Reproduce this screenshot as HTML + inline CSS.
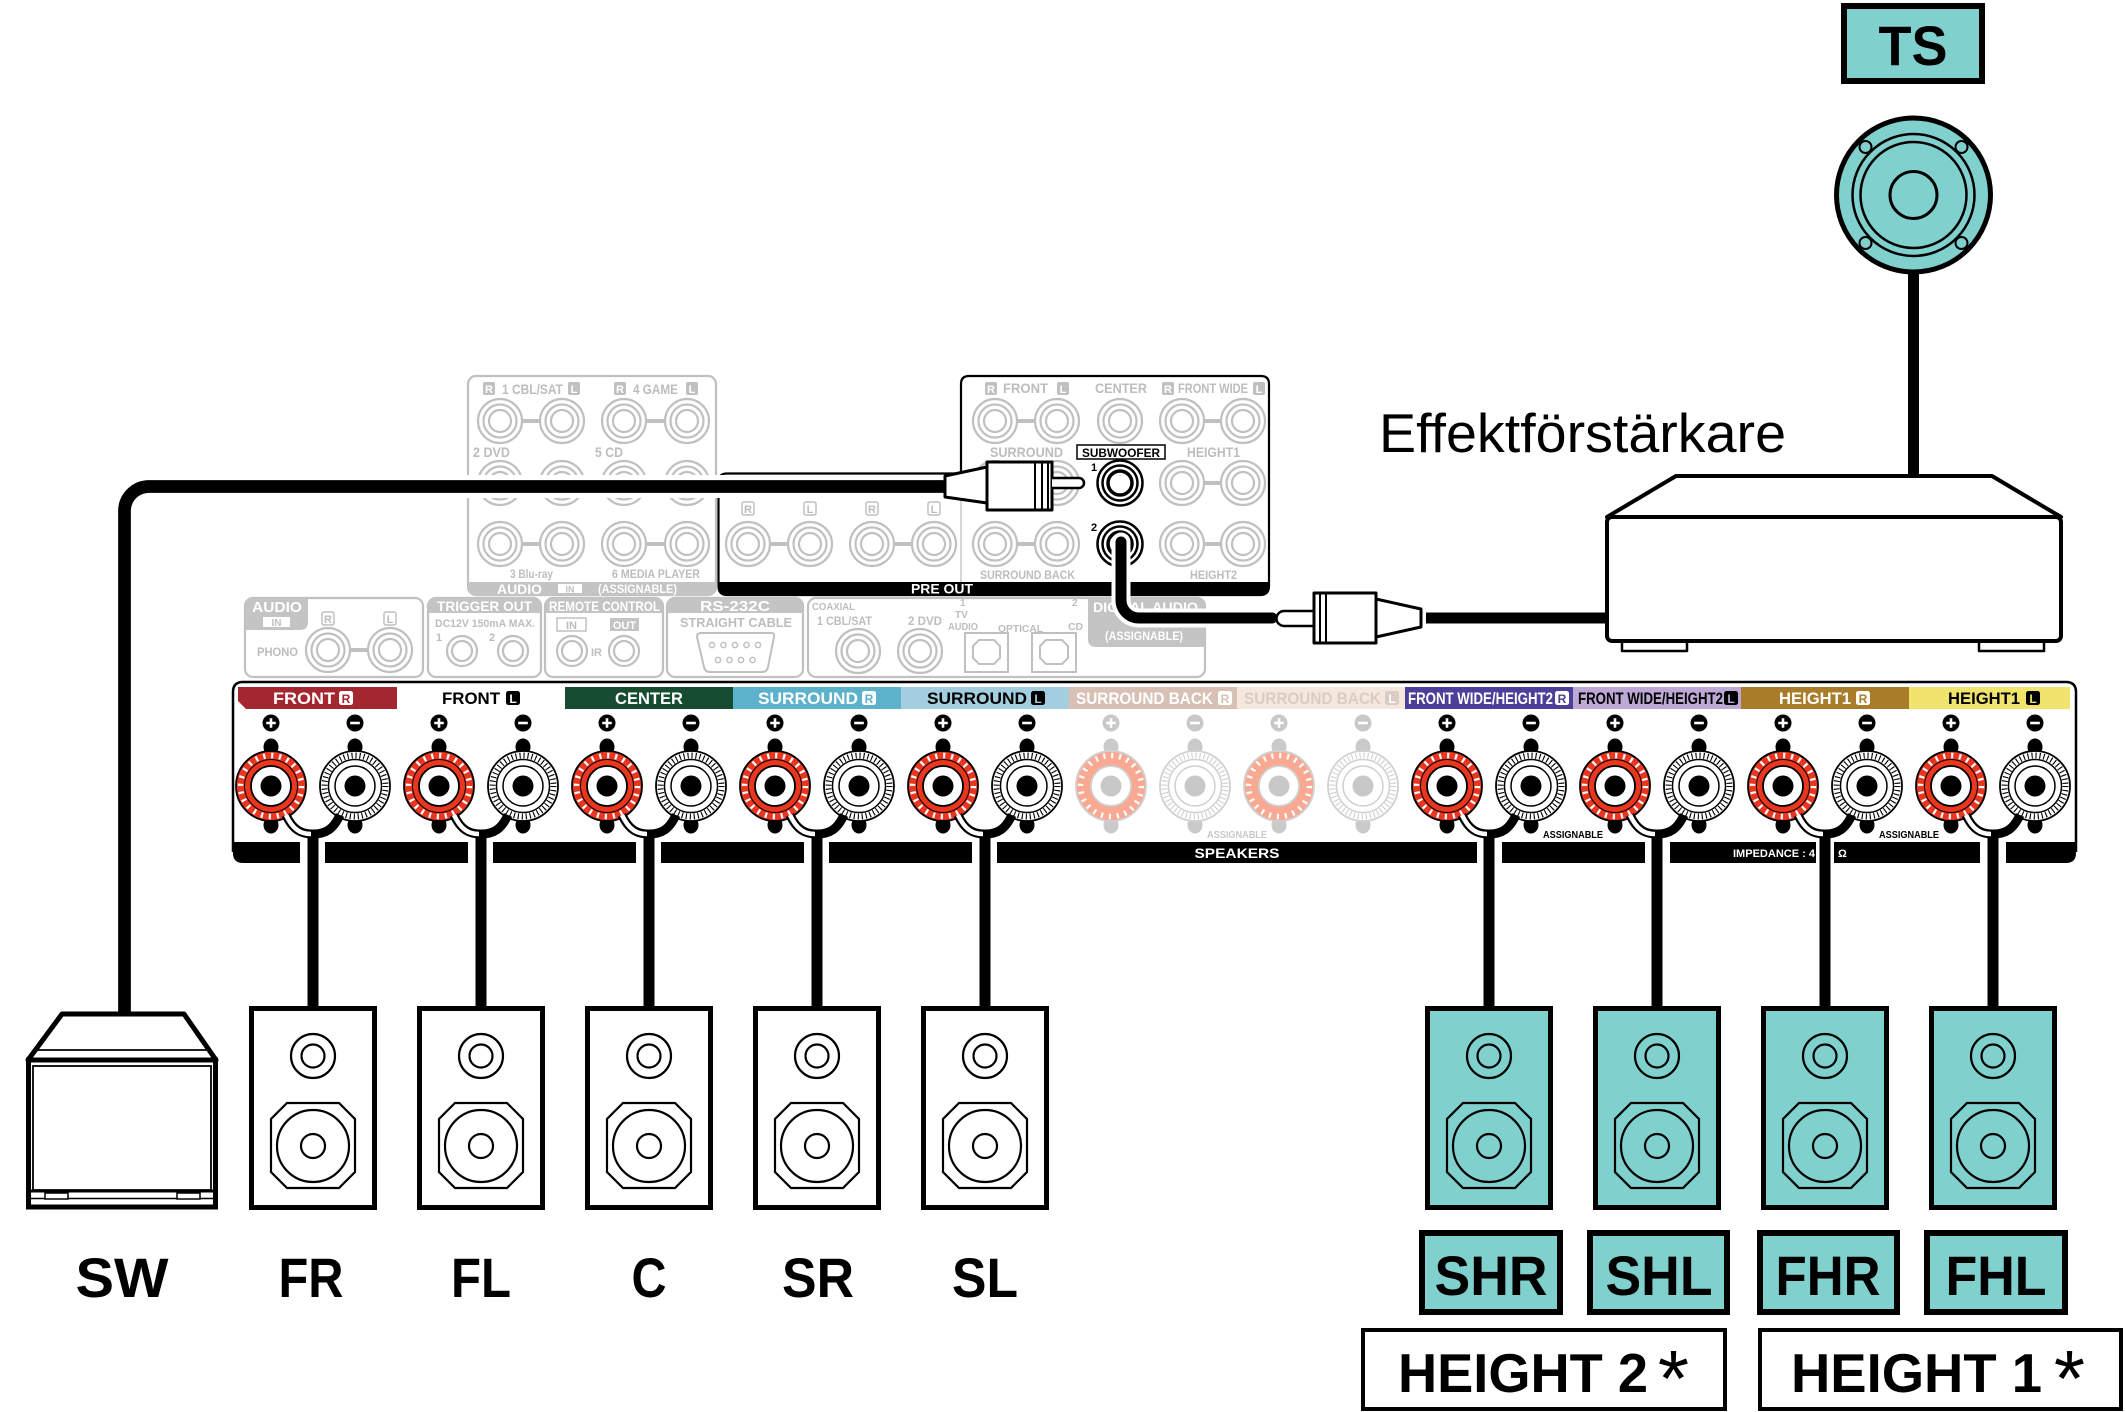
<!DOCTYPE html>
<html><head><meta charset="utf-8"><style>
html,body{margin:0;padding:0;background:#fff;}
svg{display:block;}
text{font-family:"Liberation Sans",Arial,sans-serif;}
.g{fill:#bdbdbd;font-weight:bold;}
.w{fill:#fff;font-weight:bold;}
.b{fill:#000;font-weight:bold;}
</style></head><body>
<svg width="2126" height="1412" viewBox="0 0 2126 1412" xmlns="http://www.w3.org/2000/svg">
<defs>
<g id="tp">
 <ellipse cy="-39" rx="7.5" ry="8.5"/><ellipse cy="39" rx="7.5" ry="8.5"/>
 <circle r="35" fill="#e8361f" stroke="#000" stroke-width="1.8"/>
 <circle r="30.5" fill="none" stroke="#fff" stroke-width="5.5" stroke-dasharray="2.2 5.78"/>
 <circle r="26.5" fill="none" stroke="#000" stroke-width="1"/>
 <circle r="20" fill="#fff" stroke="#000" stroke-width="1.8"/>
 <circle r="10.5" fill="#000"/>
</g>
<g id="tm">
 <ellipse cy="-39" rx="7.5" ry="8.5"/><ellipse cy="39" rx="7.5" ry="8.5"/>
 <circle r="35" fill="#fff" stroke="#000" stroke-width="1.8"/>
 <circle r="30.5" fill="none" stroke="#000" stroke-width="6" stroke-dasharray="1.1 2.9"/>
 <circle r="26.5" fill="#fff" stroke="#000" stroke-width="1.5"/>
 <circle r="20" fill="#fff" stroke="#000" stroke-width="1.5"/>
 <circle r="10.5" fill="#000"/>
</g>
<g id="tpf">
 <ellipse cy="-39" rx="7.5" ry="8.5" fill="#cacaca"/><ellipse cy="39" rx="7.5" ry="8.5" fill="#cacaca"/>
 <circle r="35" fill="#f9a892" stroke="#d0d0d0" stroke-width="1.8"/>
 <circle r="30.5" fill="none" stroke="#fff" stroke-width="5.5" stroke-dasharray="2.2 5.78"/>
 <circle r="20" fill="#fff" stroke="#d0d0d0" stroke-width="1.8"/>
 <circle r="10.5" fill="#c8c8c8"/>
</g>
<g id="tmf">
 <ellipse cy="-39" rx="7.5" ry="8.5" fill="#cacaca"/><ellipse cy="39" rx="7.5" ry="8.5" fill="#cacaca"/>
 <circle r="35" fill="#fff" stroke="#d0d0d0" stroke-width="1.8"/>
 <circle r="30.5" fill="none" stroke="#d0d0d0" stroke-width="6" stroke-dasharray="1.1 2.9"/>
 <circle r="26.5" fill="#fff" stroke="#d0d0d0" stroke-width="1.5"/>
 <circle r="20" fill="#fff" stroke="#d0d0d0" stroke-width="1.5"/>
 <circle r="10.5" fill="#c8c8c8"/>
</g>
<g id="sp"><circle r="8.5"/><path d="M-4.8 0H4.8M0-4.8V4.8" stroke="#fff" stroke-width="2.6"/></g>
<g id="sm"><circle r="8.5"/><path d="M-4.8 0H4.8" stroke="#fff" stroke-width="2.6"/></g>
<g id="spk">
 <rect x="-61.5" y="1008.5" width="123" height="199" stroke="#000" stroke-width="5"/>
 <g fill="none" stroke="#000" stroke-width="2.2">
  <circle cy="1056" r="22"/><circle cy="1056" r="11.5"/>
  <polygon points="-26,1103 26,1103 42,1119 42,1172 26,1188 -26,1188 -42,1172 -42,1119"/>
  <circle cy="1146" r="36"/><circle cy="1146" r="12"/>
 </g>
</g>
<g id="gj" stroke="#c0c0c0" stroke-width="2.2" fill="none"><circle r="22" fill="#fff"/><circle r="16.5"/><circle r="11"/></g>
<g id="gjs" stroke="#c0c0c0" stroke-width="2.2" fill="none"><circle r="15" fill="#fff"/><circle r="10"/></g>
<g id="bj" fill="none" stroke="#000"><circle r="22.5" fill="#fff" stroke-width="2.5"/><circle r="17.5" stroke-width="2.5"/><circle r="12" stroke-width="3.5"/></g>
</defs>

<!-- ================= GRAY BACK PANEL ================= -->
<g>
 <!-- left audio in block -->
 <rect x="468" y="376" width="248" height="219" rx="8" fill="#fff" stroke="#c0c0c0" stroke-width="2.2"/>
 <path d="M468 582 H716 V587 Q716 595 708 595 H476 Q468 595 468 587 Z" fill="#c4c4c4"/>
 <g stroke="#c0c0c0" stroke-width="4">
  <path d="M522 421H540M646 421H665M522 483H540M646 483H665M522 544H540M646 544H665"/>
 </g>
 <use href="#gj" x="500" y="421"/><use href="#gj" x="562" y="421"/><use href="#gj" x="624" y="421"/><use href="#gj" x="687" y="421"/>
 <use href="#gj" x="500" y="483"/><use href="#gj" x="562" y="483"/><use href="#gj" x="624" y="483"/><use href="#gj" x="687" y="483"/>
 <use href="#gj" x="500" y="544"/><use href="#gj" x="562" y="544"/><use href="#gj" x="624" y="544"/><use href="#gj" x="687" y="544"/>
 <rect x="483" y="382" width="12" height="13" rx="2" fill="#c0c0c0"/><text x="489" y="393" class="w" font-size="11" text-anchor="middle">R</text>
 <text x="502" y="394" class="g" font-size="14" textLength="61" lengthAdjust="spacingAndGlyphs">1 CBL/SAT</text>
 <rect x="568" y="382" width="12" height="13" rx="2" fill="#c0c0c0"/><text x="574" y="393" class="w" font-size="11" text-anchor="middle">L</text>
 <rect x="614" y="382" width="12" height="13" rx="2" fill="#c0c0c0"/><text x="620" y="393" class="w" font-size="11" text-anchor="middle">R</text>
 <text x="633" y="394" class="g" font-size="14" textLength="45" lengthAdjust="spacingAndGlyphs">4 GAME</text>
 <rect x="686" y="382" width="12" height="13" rx="2" fill="#c0c0c0"/><text x="692" y="393" class="w" font-size="11" text-anchor="middle">L</text>
 <text x="473" y="457" class="g" font-size="14" textLength="37" lengthAdjust="spacingAndGlyphs">2 DVD</text>
 <text x="595" y="457" class="g" font-size="14" textLength="28" lengthAdjust="spacingAndGlyphs">5 CD</text>
 <text x="510" y="578" class="g" font-size="12" textLength="43" lengthAdjust="spacingAndGlyphs">3 Blu-ray</text>
 <text x="612" y="578" class="g" font-size="12" textLength="88" lengthAdjust="spacingAndGlyphs">6 MEDIA PLAYER</text>
 <text x="497" y="594" class="w" font-size="14" textLength="45" lengthAdjust="spacingAndGlyphs">AUDIO</text>
 <rect x="558" y="584" width="24" height="9" fill="#fff"/><text x="570" y="592.5" font-size="9" fill="#c0c0c0" font-weight="bold" text-anchor="middle">IN</text>
 <text x="598" y="593" class="w" font-size="12" textLength="79" lengthAdjust="spacingAndGlyphs">(ASSIGNABLE)</text>

 <!-- PRE OUT region -->
 <path d="M727 473.5 H961 V384 Q961 376 969 376 H1261 Q1269 376 1269 384 V586 Q1269 595 1260 595 H727 Q718.5 595 718.5 586 V482 Q718.5 473.5 727 473.5 Z" fill="#fff" stroke="#000" stroke-width="2.2"/>
 <line x1="961" y1="474" x2="961" y2="582" stroke="#c8c8c8" stroke-width="1.5"/>
 <path d="M718.5 582 H1269 V586 Q1269 595 1260 595 H727 Q718.5 595 718.5 586 Z" fill="#000"/>
 <text x="942" y="593.5" class="w" font-size="14" text-anchor="middle" textLength="62" lengthAdjust="spacingAndGlyphs">PRE OUT</text>
 <g stroke="#c0c0c0" stroke-width="4">
  <path d="M770 544H788M894 544H912M1017 421H1035M1204 421H1221M1017 483H1035M1204 483H1221M1017 544H1035M1204 544H1221"/>
 </g>
 <use href="#gj" x="748" y="544"/><use href="#gj" x="810" y="544"/><use href="#gj" x="872" y="544"/><use href="#gj" x="934" y="544"/>
 <g fill="none" stroke="#c0c0c0" stroke-width="1.5">
  <rect x="742" y="502" width="12" height="13" rx="2"/><rect x="804" y="502" width="12" height="13" rx="2"/><rect x="866" y="502" width="12" height="13" rx="2"/><rect x="928" y="502" width="12" height="13" rx="2"/>
 </g>
 <text x="748" y="513" class="g" font-size="11" text-anchor="middle">R</text>
 <text x="810" y="513" class="g" font-size="11" text-anchor="middle">L</text>
 <text x="872" y="513" class="g" font-size="11" text-anchor="middle">R</text>
 <text x="934" y="513" class="g" font-size="11" text-anchor="middle">L</text>
 <use href="#gj" x="995" y="421"/><use href="#gj" x="1057" y="421"/><use href="#gj" x="1120" y="421"/><use href="#gj" x="1182" y="421"/><use href="#gj" x="1243" y="421"/>
 <use href="#gj" x="995" y="483"/><use href="#gj" x="1057" y="483"/><use href="#gj" x="1182" y="483"/><use href="#gj" x="1243" y="483"/>
 <use href="#gj" x="995" y="544"/><use href="#gj" x="1057" y="544"/><use href="#gj" x="1182" y="544"/><use href="#gj" x="1243" y="544"/>
 <use href="#bj" x="1120" y="483"/><use href="#bj" x="1120" y="544"/>
 <rect x="985" y="382" width="12" height="13" rx="2" fill="#c0c0c0"/><text x="991" y="393" class="w" font-size="11" text-anchor="middle">R</text>
 <text x="1003" y="393" class="g" font-size="14" textLength="45" lengthAdjust="spacingAndGlyphs">FRONT</text>
 <rect x="1057" y="382" width="12" height="13" rx="2" fill="#c0c0c0"/><text x="1063" y="393" class="w" font-size="11" text-anchor="middle">L</text>
 <text x="1095" y="393" class="g" font-size="14" textLength="52" lengthAdjust="spacingAndGlyphs">CENTER</text>
 <rect x="1162" y="382" width="12" height="13" rx="2" fill="#c0c0c0"/><text x="1168" y="393" class="w" font-size="11" text-anchor="middle">R</text>
 <text x="1178" y="393" class="g" font-size="14" textLength="70" lengthAdjust="spacingAndGlyphs">FRONT WIDE</text>
 <rect x="1253" y="382" width="12" height="13" rx="2" fill="#c0c0c0"/><text x="1259" y="393" class="w" font-size="11" text-anchor="middle">L</text>
 <text x="990" y="457" class="g" font-size="14" textLength="73" lengthAdjust="spacingAndGlyphs">SURROUND</text>
 <rect x="1077" y="445" width="88" height="14" fill="#fff" stroke="#000" stroke-width="1.5"/>
 <text x="1121" y="457" class="b" font-size="11.5" text-anchor="middle" textLength="78" lengthAdjust="spacingAndGlyphs">SUBWOOFER</text>
 <text x="1187" y="457" class="g" font-size="14" textLength="53" lengthAdjust="spacingAndGlyphs">HEIGHT1</text>
 <text x="1091" y="471" class="b" font-size="11">1</text>
 <text x="1091" y="531" class="b" font-size="11">2</text>
 <text x="980" y="579" class="g" font-size="12" textLength="95" lengthAdjust="spacingAndGlyphs">SURROUND BACK</text>
 <text x="1190" y="579" class="g" font-size="12" textLength="47" lengthAdjust="spacingAndGlyphs">HEIGHT2</text>

 <!-- second row -->
 <rect x="245" y="598" width="178" height="79" rx="8" fill="#fff" stroke="#c0c0c0" stroke-width="2.2"/>
 <path d="M245 606 Q245 598 253 598 H308 V622 Q308 630 300 630 H245 Z" fill="#c4c4c4"/>
 <text x="252" y="612" class="w" font-size="15" textLength="50" lengthAdjust="spacingAndGlyphs">AUDIO</text>
 <rect x="263" y="617" width="27" height="10" fill="#fff"/><text x="276.5" y="626" font-size="10" fill="#c0c0c0" font-weight="bold" text-anchor="middle">IN</text>
 <rect x="322" y="612" width="12" height="13" rx="2" fill="none" stroke="#c0c0c0" stroke-width="1.5"/><text x="328" y="623" class="g" font-size="11" text-anchor="middle">R</text>
 <rect x="384" y="612" width="12" height="13" rx="2" fill="none" stroke="#c0c0c0" stroke-width="1.5"/><text x="390" y="623" class="g" font-size="11" text-anchor="middle">L</text>
 <text x="257" y="656" class="g" font-size="12" textLength="41" lengthAdjust="spacingAndGlyphs">PHONO</text>
 <path d="M350 650H368" stroke="#c0c0c0" stroke-width="4"/>
 <use href="#gj" x="328" y="650"/><use href="#gj" x="390" y="650"/>

 <rect x="428" y="598" width="113" height="79" rx="8" fill="#fff" stroke="#c0c0c0" stroke-width="2.2"/>
 <path d="M428 613 V606 Q428 598 436 598 H533 Q541 598 541 606 V613 Z" fill="#c4c4c4"/>
 <text x="437" y="611" class="w" font-size="14" textLength="95" lengthAdjust="spacingAndGlyphs">TRIGGER OUT</text>
 <text x="435" y="627" class="g" font-size="11" textLength="100" lengthAdjust="spacingAndGlyphs">DC12V 150mA MAX.</text>
 <text x="436" y="641" class="g" font-size="11">1</text><text x="489" y="641" class="g" font-size="11">2</text>
 <use href="#gjs" x="462" y="651"/><use href="#gjs" x="513" y="651"/>

 <rect x="545" y="598" width="118" height="79" rx="8" fill="#fff" stroke="#c0c0c0" stroke-width="2.2"/>
 <path d="M545 613 V606 Q545 598 553 598 H655 Q663 598 663 606 V613 Z" fill="#c4c4c4"/>
 <text x="549" y="611" class="w" font-size="14" textLength="111" lengthAdjust="spacingAndGlyphs">REMOTE CONTROL</text>
 <rect x="557" y="618" width="29" height="13" fill="none" stroke="#c0c0c0" stroke-width="1.5"/><text x="571.5" y="629" class="g" font-size="11" text-anchor="middle">IN</text>
 <rect x="610" y="618" width="29" height="13" fill="#c4c4c4"/><text x="624.5" y="629" class="w" font-size="11" text-anchor="middle">OUT</text>
 <use href="#gjs" x="572" y="651"/><use href="#gjs" x="624" y="651"/>
 <text x="591" y="656" class="g" font-size="11">IR</text>

 <rect x="667" y="598" width="136" height="79" rx="8" fill="#fff" stroke="#c0c0c0" stroke-width="2.2"/>
 <path d="M667 613 V606 Q667 598 675 598 H795 Q803 598 803 606 V613 Z" fill="#c4c4c4"/>
 <text x="735" y="611" class="w" font-size="15" text-anchor="middle" textLength="70" lengthAdjust="spacingAndGlyphs">RS-232C</text>
 <text x="680" y="627" class="g" font-size="13" textLength="112" lengthAdjust="spacingAndGlyphs">STRAIGHT CABLE</text>
 <path d="M697 637 Q697 633 701 633 H771 Q775 633 774 637 L768 667 Q767 672 762 672 H710 Q705 672 704 667 Z" fill="none" stroke="#c0c0c0" stroke-width="2"/>
 <g fill="none" stroke="#c0c0c0" stroke-width="1.5">
  <circle cx="712" cy="645" r="2.6"/><circle cx="723.5" cy="645" r="2.6"/><circle cx="735" cy="645" r="2.6"/><circle cx="746.5" cy="645" r="2.6"/><circle cx="758" cy="645" r="2.6"/>
  <circle cx="718" cy="660" r="2.6"/><circle cx="729.5" cy="660" r="2.6"/><circle cx="741" cy="660" r="2.6"/><circle cx="752.5" cy="660" r="2.6"/>
 </g>

 <rect x="808" y="598" width="397" height="79" rx="8" fill="#fff" stroke="#c0c0c0" stroke-width="2.2"/>
 <path d="M1088 598 H1197 Q1205 598 1205 606 V647 H1096 Q1088 647 1088 639 Z" fill="#c4c4c4"/>
 <text x="1093" y="612" class="w" font-size="14" textLength="105" lengthAdjust="spacingAndGlyphs">DIGITAL AUDIO</text>
 <text x="1105" y="640" class="w" font-size="12" textLength="78" lengthAdjust="spacingAndGlyphs">(ASSIGNABLE)</text>
 <text x="812" y="610" class="g" font-size="10" font-weight="normal" textLength="43" lengthAdjust="spacingAndGlyphs">COAXIAL</text>
 <text x="817" y="625" class="g" font-size="12" textLength="55" lengthAdjust="spacingAndGlyphs">1 CBL/SAT</text>
 <text x="908" y="625" class="g" font-size="12" textLength="34" lengthAdjust="spacingAndGlyphs">2 DVD</text>
 <use href="#gj" x="858" y="651"/><use href="#gj" x="920" y="651"/>
 <text x="960" y="606" class="g" font-size="10">1</text>
 <text x="955" y="618" class="g" font-size="10">TV</text>
 <text x="948" y="630" class="g" font-size="10" textLength="30" lengthAdjust="spacingAndGlyphs">AUDIO</text>
 <text x="998" y="632" class="g" font-size="10" textLength="45" lengthAdjust="spacingAndGlyphs">OPTICAL</text>
 <text x="1072" y="606" class="g" font-size="10">2</text>
 <text x="1068" y="630" class="g" font-size="10" textLength="15" lengthAdjust="spacingAndGlyphs">CD</text>
 <g fill="none" stroke="#c0c0c0" stroke-width="2">
  <rect x="965" y="633" width="43" height="39"/>
  <path d="M973 646 L979 640 H994 L1000 646 V658 L994 664 H979 L973 658 Z"/>
  <rect x="1032" y="633" width="44" height="39"/>
  <path d="M1040 646 L1046 640 H1062 L1068 646 V658 L1062 664 H1046 L1040 658 Z"/>
 </g>
</g>

<!-- ================= SPEAKER TERMINAL PANEL ================= -->
<g>
 <path d="M233 852 V692 Q233 682 243 682 H2066 Q2076 682 2076 692 V852" fill="#fff" stroke="#000" stroke-width="2.5"/>
 <!-- strips -->
 <polygon points="238,687 397,687 397,709 246,709 238,701" fill="#a4262f"/>
 <rect x="565" y="687" width="168" height="22" fill="#164c2f"/>
 <rect x="733" y="687" width="168" height="22" fill="#5db2cb"/>
 <rect x="901" y="687" width="168" height="22" fill="#a3cee0"/>
 <rect x="1069" y="687" width="168" height="22" fill="#d8c0b4"/>
 <rect x="1237" y="687" width="168" height="22" fill="#f6e7dd"/>
 <rect x="1405" y="687" width="168" height="22" fill="#4c3f99"/>
 <rect x="1573" y="687" width="168" height="22" fill="#bea9d6"/>
 <rect x="1741" y="687" width="168" height="22" fill="#a97c29"/>
 <rect x="1909" y="687" width="161" height="22" fill="#f1e46d"/>
 <g font-size="17" font-weight="bold">
  <text x="273" y="704" fill="#fff" textLength="62" lengthAdjust="spacingAndGlyphs">FRONT</text>
  <rect x="339" y="691" width="14" height="14" rx="2.5" fill="#fff"/><text x="346" y="703" fill="#a4262f" font-size="12" text-anchor="middle">R</text>
  <text x="442" y="704" fill="#000" textLength="58" lengthAdjust="spacingAndGlyphs">FRONT</text>
  <rect x="506" y="691" width="14" height="14" rx="2.5" fill="#000"/><text x="513" y="703" fill="#fff" font-size="12" text-anchor="middle">L</text>
  <text x="615" y="704" fill="#fff" textLength="68" lengthAdjust="spacingAndGlyphs">CENTER</text>
  <text x="758" y="704" fill="#fff" textLength="100" lengthAdjust="spacingAndGlyphs">SURROUND</text>
  <rect x="862" y="691" width="14" height="14" rx="2.5" fill="#fff"/><text x="869" y="703" fill="#5db2cb" font-size="12" text-anchor="middle">R</text>
  <text x="927" y="704" fill="#000" textLength="100" lengthAdjust="spacingAndGlyphs">SURROUND</text>
  <rect x="1031" y="691" width="14" height="14" rx="2.5" fill="#000"/><text x="1038" y="703" fill="#a3cee0" font-size="12" text-anchor="middle">L</text>
  <text x="1076" y="704" fill="#fff" textLength="137" lengthAdjust="spacingAndGlyphs">SURROUND BACK</text>
  <rect x="1218" y="691" width="14" height="14" rx="2.5" fill="#fff"/><text x="1225" y="703" fill="#d8c0b4" font-size="12" text-anchor="middle">R</text>
  <text x="1244" y="704" fill="#d9ccc5" textLength="137" lengthAdjust="spacingAndGlyphs">SURROUND BACK</text>
  <rect x="1385" y="691" width="14" height="14" rx="2.5" fill="#d9ccc5"/><text x="1392" y="703" fill="#fff" font-size="12" text-anchor="middle">L</text>
  <text x="1408" y="704" fill="#fff" textLength="145" lengthAdjust="spacingAndGlyphs">FRONT WIDE/HEIGHT2</text>
  <rect x="1555" y="691" width="14" height="14" rx="2.5" fill="#fff"/><text x="1562" y="703" fill="#4c3f99" font-size="12" text-anchor="middle">R</text>
  <text x="1578" y="704" fill="#000" textLength="145" lengthAdjust="spacingAndGlyphs">FRONT WIDE/HEIGHT2</text>
  <rect x="1724" y="691" width="14" height="14" rx="2.5" fill="#000"/><text x="1731" y="703" fill="#bea9d6" font-size="12" text-anchor="middle">L</text>
  <text x="1779" y="704" fill="#fff" textLength="72" lengthAdjust="spacingAndGlyphs">HEIGHT1</text>
  <rect x="1856" y="691" width="14" height="14" rx="2.5" fill="#fff"/><text x="1863" y="703" fill="#a97c29" font-size="12" text-anchor="middle">R</text>
  <text x="1948" y="704" fill="#000" textLength="72" lengthAdjust="spacingAndGlyphs">HEIGHT1</text>
  <rect x="2026" y="691" width="14" height="14" rx="2.5" fill="#000"/><text x="2033" y="703" fill="#f1e46d" font-size="12" text-anchor="middle">L</text>
 </g>
 <!-- signs -->
 <use href="#sp" x="271" y="723"/><use href="#sm" x="355" y="723"/>
 <use href="#sp" x="439" y="723"/><use href="#sm" x="523" y="723"/>
 <use href="#sp" x="607" y="723"/><use href="#sm" x="691" y="723"/>
 <use href="#sp" x="775" y="723"/><use href="#sm" x="859" y="723"/>
 <use href="#sp" x="943" y="723"/><use href="#sm" x="1027" y="723"/>
 <use href="#sp" x="1111" y="723" fill="#c8c8c8"/><use href="#sm" x="1195" y="723" fill="#c8c8c8"/>
 <use href="#sp" x="1279" y="723" fill="#c8c8c8"/><use href="#sm" x="1363" y="723" fill="#c8c8c8"/>
 <use href="#sp" x="1447" y="723"/><use href="#sm" x="1531" y="723"/>
 <use href="#sp" x="1615" y="723"/><use href="#sm" x="1699" y="723"/>
 <use href="#sp" x="1783" y="723"/><use href="#sm" x="1867" y="723"/>
 <use href="#sp" x="1951" y="723"/><use href="#sm" x="2035" y="723"/>
 <!-- terminals -->
 <use href="#tp" x="271" y="786"/><use href="#tm" x="355" y="786"/>
 <use href="#tp" x="439" y="786"/><use href="#tm" x="523" y="786"/>
 <use href="#tp" x="607" y="786"/><use href="#tm" x="691" y="786"/>
 <use href="#tp" x="775" y="786"/><use href="#tm" x="859" y="786"/>
 <use href="#tp" x="943" y="786"/><use href="#tm" x="1027" y="786"/>
 <use href="#tpf" x="1111" y="786"/><use href="#tmf" x="1195" y="786"/>
 <use href="#tpf" x="1279" y="786"/><use href="#tmf" x="1363" y="786"/>
 <use href="#tp" x="1447" y="786"/><use href="#tm" x="1531" y="786"/>
 <use href="#tp" x="1615" y="786"/><use href="#tm" x="1699" y="786"/>
 <use href="#tp" x="1783" y="786"/><use href="#tm" x="1867" y="786"/>
 <use href="#tp" x="1951" y="786"/><use href="#tm" x="2035" y="786"/>
 <!-- bottom bars -->
 <g fill="#000">
  <path d="M233 842 H300 V863 H243 Q233 863 233 853 Z"/>
  <rect x="325" y="842" width="143" height="21"/>
  <rect x="493" y="842" width="143" height="21"/>
  <rect x="661" y="842" width="143" height="21"/>
  <rect x="829" y="842" width="143" height="21"/>
  <rect x="997" y="842" width="480" height="21"/>
  <rect x="1502" y="842" width="143" height="21"/>
  <rect x="1670" y="842" width="310" height="21"/>
  <path d="M2006 842 H2076 V853 Q2076 863 2066 863 H2006 Z"/>
 </g>
 <text x="1237" y="858" class="w" font-size="14" text-anchor="middle" textLength="85" lengthAdjust="spacingAndGlyphs">SPEAKERS</text>
 <text x="1733" y="857" class="w" font-size="11" textLength="82" lengthAdjust="spacingAndGlyphs">IMPEDANCE : 4</text>
 <text x="1838" y="857" class="w" font-size="11">Ω</text>
 <text x="1237" y="838" font-size="10" font-weight="bold" fill="#c8c8c8" text-anchor="middle" textLength="60" lengthAdjust="spacingAndGlyphs">ASSIGNABLE</text>
 <text x="1573" y="838" class="b" font-size="10" text-anchor="middle" textLength="60" lengthAdjust="spacingAndGlyphs">ASSIGNABLE</text>
 <text x="1909" y="838" class="b" font-size="10" text-anchor="middle" textLength="60" lengthAdjust="spacingAndGlyphs">ASSIGNABLE</text>
</g>

<!-- ================= SPEAKER CABLES ================= -->
<g fill="none">
 <g stroke="#fff" stroke-width="18">
  <path d="M313 834V1008M481 834V1008M649 834V1008M817 834V1008M985 834V1008M1489 834V1008M1657 834V1008M1825 834V1008M1993 834V1008"/>
 </g>
 <g stroke="#000" stroke-width="11">
  <path d="M313 832V1008M481 832V1008M649 832V1008M817 832V1008M985 832V1008M1489 832V1008M1657 832V1008M1825 832V1008M1993 832V1008"/>
 </g>
 <g stroke="#000" stroke-width="9">
  <path d="M286 815C293 830 301 834 313 834M454 815C461 830 469 834 481 834M622 815C629 830 637 834 649 834M790 815C797 830 805 834 817 834M958 815C965 830 973 834 985 834M1462 815C1469 830 1477 834 1489 834M1630 815C1637 830 1645 834 1657 834M1798 815C1805 830 1813 834 1825 834M1966 815C1973 830 1981 834 1993 834"/>
  <path d="M340 815C333 830 325 834 313 834M508 815C501 830 493 834 481 834M676 815C669 830 661 834 649 834M844 815C837 830 829 834 817 834M1012 815C1005 830 997 834 985 834M1516 815C1509 830 1501 834 1489 834M1684 815C1677 830 1669 834 1657 834M1852 815C1845 830 1837 834 1825 834M2020 815C2013 830 2005 834 1993 834"/>
 </g>
 <g stroke="#fff" stroke-width="4.5">
  <path d="M286 815C293 830 301 834 311 834M454 815C461 830 469 834 479 834M622 815C629 830 637 834 647 834M790 815C797 830 805 834 815 834M958 815C965 830 973 834 983 834M1462 815C1469 830 1477 834 1487 834M1630 815C1637 830 1645 834 1655 834M1798 815C1805 830 1813 834 1823 834M1966 815C1973 830 1981 834 1991 834"/>
 </g>
</g>

<!-- ================= SUBWOOFER CABLE 1 ================= -->
<path d="M946 486.5 H149 A24.5 24.5 0 0 0 124.5 511 V1014" fill="none" stroke="#fff" stroke-width="23"/>
<path d="M946 486.5 H149 A24.5 24.5 0 0 0 124.5 511 V1014" fill="none" stroke="#000" stroke-width="12.7"/>
<g fill="#fff" stroke="#000" stroke-width="3" stroke-linejoin="round">
 <polygon points="945,476 987,467 987,503 945,497"/>
 <rect x="987" y="462" width="65" height="48"/>
 <path d="M1052 478 H1079 A5 5 0 0 1 1079 488 H1052" stroke-width="2.5"/>
</g>
<path d="M1035 463V509M1042 463V509M1048 463V509" stroke="#000" stroke-width="2"/>

<!-- ================= CABLE 2 TO AMP ================= -->
<path d="M1121 542 V600 A18 18 0 0 0 1139 618 H1272" fill="none" stroke="#fff" stroke-width="19" stroke-linecap="round"/>
<path d="M1121 542 V600 A18 18 0 0 0 1139 618 H1272" fill="none" stroke="#000" stroke-width="11" stroke-linecap="round"/>
<g fill="#fff" stroke="#000" stroke-width="3" stroke-linejoin="round">
 <path d="M1315 611 H1284 A7.5 7.5 0 0 0 1284 626 H1315" stroke-width="2.5"/>
 <rect x="1314" y="593" width="62" height="50"/>
 <polygon points="1376,599 1421,609 1421,627 1376,637"/>
</g>
<path d="M1320 594V642M1326 594V642" stroke="#000" stroke-width="2"/>
<path d="M1426 618 H1609" stroke="#000" stroke-width="11"/>

<!-- ================= AMP ================= -->
<g fill="#fff" stroke="#000" stroke-width="4" stroke-linejoin="round">
 <polygon points="1676,476 1992,476 2061,517 1607,517"/>
 <rect x="1622" y="640" width="65" height="11" stroke-width="2.5"/>
 <rect x="1979" y="640" width="65" height="11" stroke-width="2.5"/>
 <rect x="1607" y="517" width="454" height="124" rx="5"/>
</g>
<text x="1379" y="452" font-size="55" fill="#000" textLength="407" lengthAdjust="spacingAndGlyphs">Effektförstärkare</text>

<!-- ================= TS ================= -->
<path d="M1913.5 270 V478" stroke="#000" stroke-width="11"/>
<rect x="1844" y="6" width="138" height="75" fill="#80d0ce" stroke="#000" stroke-width="6"/>
<text x="1913" y="65" class="b" font-size="56" text-anchor="middle" textLength="69" lengthAdjust="spacingAndGlyphs">TS</text>
<g fill="#80d0ce" stroke="#000">
 <circle cx="1913.5" cy="195" r="77" stroke-width="5"/>
 <circle cx="1913.5" cy="195" r="61" fill="none" stroke-width="2.5"/>
 <circle cx="1913.5" cy="195" r="53" fill="none" stroke-width="2.5"/>
 <circle cx="1913.5" cy="195" r="23.5" fill="none" stroke-width="3"/>
 <circle cx="1865.5" cy="147" r="6" stroke-width="2"/>
 <circle cx="1961.5" cy="147" r="6" stroke-width="2"/>
 <circle cx="1865.5" cy="243" r="6" stroke-width="2"/>
 <circle cx="1961.5" cy="243" r="6" stroke-width="2"/>
</g>

<!-- ================= SPEAKERS ================= -->
<g fill="#fff" stroke="#000">
 <polygon points="62,1014 184,1014 216,1060 28,1060" stroke-width="5" stroke-linejoin="round"/>
 <line x1="35" y1="1050" x2="209" y2="1050" stroke-width="1.8"/>
 <rect x="28.5" y="1060" width="187" height="147" stroke-width="5"/>
 <rect x="33" y="1066" width="178" height="124" fill="none" stroke-width="1.8"/>
 <line x1="29" y1="1191" x2="215" y2="1191" stroke-width="3"/>
 <line x1="29" y1="1198.5" x2="215" y2="1198.5" stroke-width="1.5"/>
 <rect x="45" y="1193" width="23" height="6" stroke-width="1.5"/>
 <rect x="177" y="1193" width="23" height="6" stroke-width="1.5"/>
</g>
<use href="#spk" x="313" fill="#fff"/>
<use href="#spk" x="481" fill="#fff"/>
<use href="#spk" x="649" fill="#fff"/>
<use href="#spk" x="817" fill="#fff"/>
<use href="#spk" x="985" fill="#fff"/>
<use href="#spk" x="1489" fill="#80d0ce"/>
<use href="#spk" x="1657" fill="#80d0ce"/>
<use href="#spk" x="1825" fill="#80d0ce"/>
<use href="#spk" x="1993" fill="#80d0ce"/>

<g class="b" font-size="56" text-anchor="middle" font-weight="bold">
 <text x="122" y="1297" textLength="93" lengthAdjust="spacingAndGlyphs">SW</text>
 <text x="311" y="1297" textLength="65" lengthAdjust="spacingAndGlyphs">FR</text>
 <text x="481" y="1297" textLength="60" lengthAdjust="spacingAndGlyphs">FL</text>
 <text x="649" y="1297" textLength="35" lengthAdjust="spacingAndGlyphs">C</text>
 <text x="818" y="1297" textLength="72" lengthAdjust="spacingAndGlyphs">SR</text>
 <text x="985" y="1297" textLength="66" lengthAdjust="spacingAndGlyphs">SL</text>
</g>

<g fill="#80d0ce" stroke="#000" stroke-width="6">
 <rect x="1422" y="1233" width="138" height="79"/>
 <rect x="1590" y="1233" width="137" height="79"/>
 <rect x="1760" y="1233" width="137" height="79"/>
 <rect x="1927" y="1233" width="138" height="79"/>
</g>
<g font-size="56" text-anchor="middle" font-weight="bold" fill="#000">
 <text x="1491" y="1295" textLength="113" lengthAdjust="spacingAndGlyphs">SHR</text>
 <text x="1659" y="1295" textLength="107" lengthAdjust="spacingAndGlyphs">SHL</text>
 <text x="1828" y="1295" textLength="105" lengthAdjust="spacingAndGlyphs">FHR</text>
 <text x="1996" y="1295" textLength="101" lengthAdjust="spacingAndGlyphs">FHL</text>
</g>

<g fill="#fff" stroke="#000" stroke-width="4">
 <rect x="1363" y="1330" width="362" height="79"/>
 <rect x="1760" y="1330" width="361" height="79"/>
</g>
<g font-size="55" font-weight="bold" fill="#000">
 <text x="1398" y="1392" textLength="250" lengthAdjust="spacingAndGlyphs">HEIGHT 2</text>
 <text x="1791" y="1392" textLength="251" lengthAdjust="spacingAndGlyphs">HEIGHT 1</text>
</g>
<g font-size="80" fill="#000" text-anchor="middle">
 <text x="1673.5" y="1406">*</text>
 <text x="2069.5" y="1406">*</text>
</g>
</svg>
</body></html>
